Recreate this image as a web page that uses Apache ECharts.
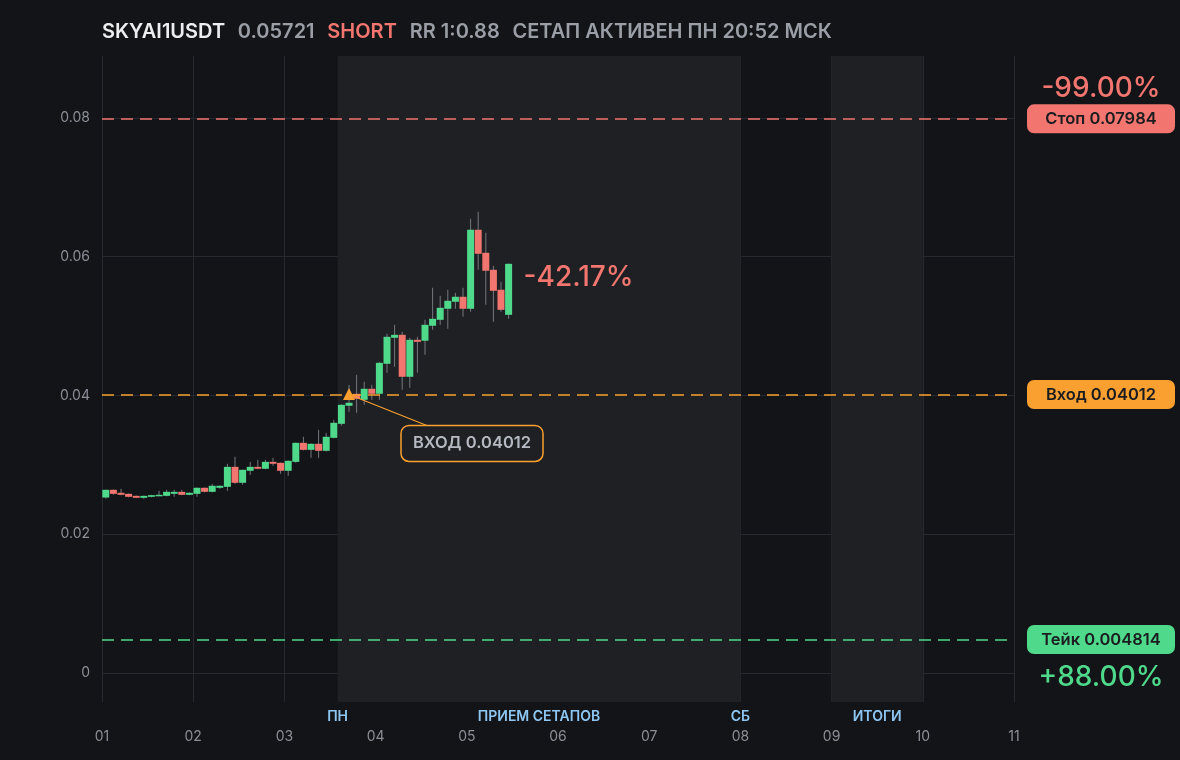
<!DOCTYPE html>
<html><head><meta charset="utf-8">
<script src="https://cdn.jsdelivr.net/npm/echarts@6/dist/echarts.min.js"></script>
<style>html,body{margin:0;padding:0;background:#131418;}#c{width:1180px;height:760px;}</style>
</head><body><div id="c"></div>
<script>
// ---- data ----
const symbolName = 'SKYAI1USDT';
const lastPrice = 0.05721;
const sideText = 'SHORT';
const rrText = 'RR 1:0.88';
const statusText = 'СЕТАП АКТИВЕН ПН 20:52 МСК';
const stopPrice = 0.07984;
const entryPrice = 0.04012;
const takePrice = 0.004814;
const stopPct = '-99.00%';
const takePct = '+88.00%';
const currentPct = '-42.17%';
const entryCandleIndex = 32;
const candleStartDay = 1;
const candlesPerDay = 12;
const candleOpen  = [0.02527,0.02638,0.02595,0.02580,0.02551,0.02523,0.02537,0.02556,0.02551,0.02580,0.02609,0.02566,0.02580,0.02667,0.02609,0.02667,0.02681,0.02969,0.02739,0.02912,0.02969,0.02941,0.03041,0.03027,0.02912,0.03041,0.03315,0.03214,0.03301,0.03200,0.03387,0.03589,0.03849,0.04022,0.03935,0.04094,0.04022,0.04454,0.04829,0.04872,0.04267,0.04800,0.04786,0.05002,0.05088,0.05247,0.05348,0.05420,0.05247,0.06386,0.06054,0.05809,0.05521,0.05160];
const candleClose = [0.02638,0.02580,0.02566,0.02537,0.02523,0.02551,0.02561,0.02566,0.02609,0.02609,0.02566,0.02595,0.02667,0.02609,0.02696,0.02696,0.02969,0.02739,0.02926,0.02969,0.02941,0.03041,0.03013,0.02912,0.03056,0.03315,0.03214,0.03301,0.03200,0.03402,0.03604,0.03863,0.03892,0.03950,0.04094,0.04022,0.04468,0.04843,0.04872,0.04267,0.04800,0.04771,0.05016,0.05103,0.05261,0.05362,0.05420,0.05247,0.06386,0.06040,0.05795,0.05506,0.05232,0.05895];
const candleLow   = [0.02512,0.02566,0.02560,0.02530,0.02518,0.02508,0.02530,0.02550,0.02545,0.02537,0.02560,0.02560,0.02537,0.02600,0.02600,0.02652,0.02623,0.02724,0.02710,0.02854,0.02935,0.02935,0.02984,0.02869,0.02840,0.03027,0.03205,0.03099,0.03099,0.03190,0.03380,0.03560,0.03762,0.03748,0.03863,0.03935,0.03935,0.04324,0.04411,0.04079,0.04108,0.04324,0.04584,0.04944,0.05016,0.04959,0.05247,0.05132,0.05204,0.05809,0.05305,0.05059,0.05204,0.05103];
const candleHigh  = [0.02640,0.02642,0.02652,0.02585,0.02555,0.02555,0.02565,0.02623,0.02638,0.02638,0.02638,0.02600,0.02672,0.02672,0.02724,0.02700,0.03013,0.03114,0.02930,0.03041,0.03070,0.03070,0.03099,0.03030,0.03060,0.03320,0.03402,0.03305,0.03503,0.03459,0.03647,0.03870,0.04150,0.04295,0.04195,0.04151,0.04480,0.04887,0.05016,0.04915,0.04829,0.04843,0.05088,0.05550,0.05434,0.05520,0.05477,0.05550,0.06544,0.06645,0.06342,0.05867,0.05636,0.05900];
const dayTicks = ['01','02','03','04','05','06','07','08','09','10','11'];
const yTickValues = [0, 0.02, 0.04, 0.06, 0.08];
const shadeZones = [[3.5833, 8], [9, 10]];
const zoneLabels = [['ПН', 3.5833], ['ПРИЕМ СЕТАПОВ', 5.7917], ['СБ', 8], ['ИТОГИ', 9.5]];

// ---- style ----
const GREEN = '#4fd98b', RED = '#f2766f', ORANGE = '#f9a030', WICK = '#74777e';
const BG = '#131418', SHADE = '#1f2024', GRIDC = '#272930';
const FONT = 'Inter, "Noto Sans", sans-serif';

const candleData = candleOpen.map((o, i) => [candleStartDay + (i + 0.5) / candlesPerDay, o, candleClose[i], candleLow[i], candleHigh[i]]);

const chart = echarts.init(document.getElementById('c'));
chart.setOption({
  backgroundColor: BG,
  animation: false,
  textStyle: { fontFamily: FONT },
  title: {
    left: 97, top: 17,
    text: '{a|' + symbolName + '}   {b|' + lastPrice + '}   {c|' + sideText + '}   {b|' + rrText + '}   {b|' + statusText + '}',
    textStyle: {
      rich: {
        a: { color: '#eeeef0', fontSize: 20, fontWeight: 600, fontFamily: FONT },
        b: { color: '#9a9ea6', fontSize: 20, fontWeight: 600, fontFamily: FONT },
        c: { color: RED, fontSize: 20, fontWeight: 600, fontFamily: FONT }
      }
    }
  },
  grid: { left: 102, right: 166, top: 56, bottom: 58 },
  xAxis: {
    type: 'value', min: 1, max: 11, interval: 1,
    axisLine: { show: false }, axisTick: { show: false },
    splitLine: { show: true, lineStyle: { color: GRIDC, width: 1 } },
    axisLabel: { color: '#8b8f97', fontSize: 14, margin: 28, fontFamily: FONT,
      formatter: v => dayTicks[Math.round(v) - 1] }
  },
  yAxis: {
    type: 'value', min: -0.0042, max: 0.0889,
    axisLine: { show: false },
    axisTick: { show: false, customValues: yTickValues },
    splitLine: { show: true, lineStyle: { color: GRIDC, width: 1 } },
    axisLabel: { color: '#8b8f97', fontSize: 14, margin: 12, fontFamily: FONT, customValues: yTickValues,
      formatter: v => (v === 0 ? '0' : v.toFixed(2)) }
  },
  series: [
    {
      type: 'line', data: [], silent: true, z: 0,
      markArea: { silent: true, itemStyle: { color: SHADE },
        data: shadeZones.map(z => [{ xAxis: z[0] }, { xAxis: z[1] }]) }
    },
    {
      type: 'custom', z: 3,
      data: candleData,
      encode: { x: 0, y: [1, 2, 3, 4] },
      renderItem: (params, api) => {
        const x = api.value(0), o = api.value(1), c = api.value(2), l = api.value(3), h = api.value(4);
        const pO = api.coord([x, o]), pC = api.coord([x, c]), pL = api.coord([x, l]), pH = api.coord([x, h]);
        const w = api.size([1 / candlesPerDay, 0])[0] * 0.92;
        const top = Math.min(pO[1], pC[1]), bot = Math.max(pO[1], pC[1]);
        return { type: 'group', children: [
          { type: 'line', shape: { x1: pH[0], y1: pH[1], x2: pL[0], y2: pL[1] }, style: { stroke: WICK, lineWidth: 1 } },
          { type: 'rect', shape: { x: pO[0] - w / 2, y: top, width: w, height: Math.max(bot - top, 1.5) }, style: { fill: c >= o ? GREEN : RED } }
        ] };
      },
      markLine: {
        silent: true, symbol: 'none', label: { show: false }, precision: 6,
        data: [
          { yAxis: stopPrice, lineStyle: { color: RED, type: [12, 7], width: 1.6 } },
          { yAxis: entryPrice, lineStyle: { color: ORANGE, type: [12, 7], width: 1.6 } },
          { yAxis: takePrice, lineStyle: { color: GREEN, type: [12, 7], width: 1.6 } }
        ]
      }
    }
  ]
});

function px(x, y) { return chart.convertToPixel({ xAxisIndex: 0, yAxisIndex: 0 }, [x, y]); }
const g = [];
// right-side tags
function tag(price, text, color, pct, pctAbove) {
  const y = px(1, price)[1];
  g.push({ type: 'rect', shape: { x: 1027, y: y - 14.5, width: 148, height: 29, r: 7 }, style: { fill: color }, z: 10 });
  g.push({ type: 'text', x: 1101, y: y + 0.5, style: { text: text, fill: '#1b1c20', font: '600 16.5px ' + FONT, align: 'center', verticalAlign: 'middle' }, z: 11 });
  if (pct) g.push({ type: 'text', x: 1101, y: pctAbove ? y - 30 : y + 38, style: { text: pct, fill: color, font: '500 28px ' + FONT, align: 'center', verticalAlign: 'middle' }, z: 11 });
}
tag(stopPrice, 'Стоп ' + stopPrice, RED, stopPct, true);
tag(entryPrice, 'Вход ' + entryPrice, ORANGE, null);
tag(takePrice, 'Тейк ' + takePrice, GREEN, takePct, false);

// entry annotation
const ea = px(candleData[entryCandleIndex][0], entryPrice);
const lc = [ea[0] + 123, ea[1] + 49];
g.push({ type: 'line', shape: { x1: ea[0], y1: ea[1], x2: lc[0], y2: lc[1] }, style: { stroke: ORANGE, lineWidth: 1.2 }, z: 8 });
g.push({ type: 'rect', shape: { x: lc[0] - 71, y: lc[1] - 18, width: 142, height: 36, r: 8 }, style: { fill: SHADE, stroke: ORANGE, lineWidth: 1.5 }, z: 9 });
g.push({ type: 'text', x: lc[0], y: lc[1], style: { text: 'ВХОД ' + entryPrice, fill: '#b5b9c1', font: '600 16.5px ' + FONT, align: 'center', verticalAlign: 'middle' }, z: 10 });
g.push({ type: 'polygon', shape: { points: [[ea[0], ea[1] - 6.5], [ea[0] + 6, ea[1] + 5.5], [ea[0] - 6, ea[1] + 5.5]] }, style: { fill: ORANGE }, z: 10 });

// current pct label
const lastIdx = candleData.length - 1;
const lp = px(candleData[lastIdx][0], lastPrice);
g.push({ type: 'text', x: lp[0] + 15, y: lp[1] + 2, style: { text: currentPct, fill: RED, font: '500 28px ' + FONT, align: 'left', verticalAlign: 'middle' }, z: 10 });

// zone labels under axis
zoneLabels.forEach(z => {
  const p = px(z[1], 0);
  g.push({ type: 'text', x: p[0], y: 717, style: { text: z[0], fill: '#8ec6f2', font: '600 14px ' + FONT, align: 'center', verticalAlign: 'middle' }, z: 10 });
});
chart.setOption({ graphic: g });
</script>
</body></html>
